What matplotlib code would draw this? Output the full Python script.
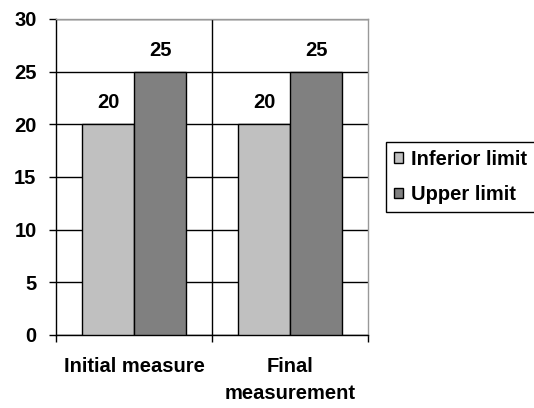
import numpy as np
import matplotlib.pyplot as plt

plt.rcParams['font.family'] = ['Liberation Sans', 'DejaVu Sans']
plt.rcParams['font.weight'] = 'bold'

categories = ['Initial measure', 'Final\nmeasurement']
inferior = [20, 20]
upper = [25, 25]
series_names = ['Inferior limit', 'Upper limit']

fs = 14.5

fig = plt.figure(figsize=(5.34, 4.08), dpi=100)
ax = fig.add_axes([56 / 534, 1 - 335 / 408, 312 / 534, 316 / 408])

x = np.arange(len(categories)) + 0.5
w = 1 / 3
b1 = ax.bar(x - w / 2, inferior, w, color='#c0c0c0', edgecolor='black',
            linewidth=1.0, zorder=3, label=series_names[0])
b2 = ax.bar(x + w / 2, upper, w, color='#808080', edgecolor='black',
            linewidth=1.0, zorder=3, label=series_names[1])

# value labels above each bar
for bars in (b1, b2):
    for r in bars:
        ax.annotate(f'{r.get_height():g}', (r.get_x() + r.get_width() / 2, r.get_height()),
                    xytext=(0, 11.5), textcoords='offset points', ha='center',
                    va='baseline', fontsize=fs, fontweight='bold')

ax.set_xlim(0, 2)
ax.set_ylim(0, 30)
ax.set_yticks(np.arange(0, 31, 5))
ax.yaxis.grid(True, color='black', linewidth=1.0, zorder=0)
ax.axvline(1, color='black', linewidth=1.0, zorder=1)

ax.set_xticks([0, 1, 2])
ax.set_xticklabels([])
ax.set_xticks(x, minor=True)
ax.set_xticklabels(categories, minor=True, fontsize=fs, fontweight='bold',
                   linespacing=1.5)
ax.tick_params(axis='x', which='major', length=5, width=1.0, direction='out')
ax.tick_params(axis='x', which='minor', length=0, pad=16)
ax.tick_params(axis='y', length=5, width=1.0, pad=9, labelsize=fs)
for lab in ax.get_yticklabels():
    lab.set_fontweight('bold')

ax.spines['left'].set_color('black')
ax.spines['bottom'].set_color('black')
ax.spines['top'].set_color('#999999')
ax.spines['right'].set_color('#999999')
for s in ax.spines.values():
    s.set_linewidth(1.0)

leg = fig.legend(handles=[b1, b2], loc='upper left',
                 bbox_to_anchor=(386 / 534, 1 - 142 / 408),
                 prop={'size': fs, 'weight': 'bold'}, frameon=True,
                 fancybox=False, edgecolor='black', framealpha=1,
                 handlelength=0.45, handleheight=0.45, handletextpad=0.4,
                 labelspacing=0.8, borderpad=0.4, borderaxespad=0)
leg.get_frame().set_linewidth(1.0)
leg._legend_box.sep = 0
leg._legend_handle_box.pad = 0

fig.savefig('out.png', dpi=100)
